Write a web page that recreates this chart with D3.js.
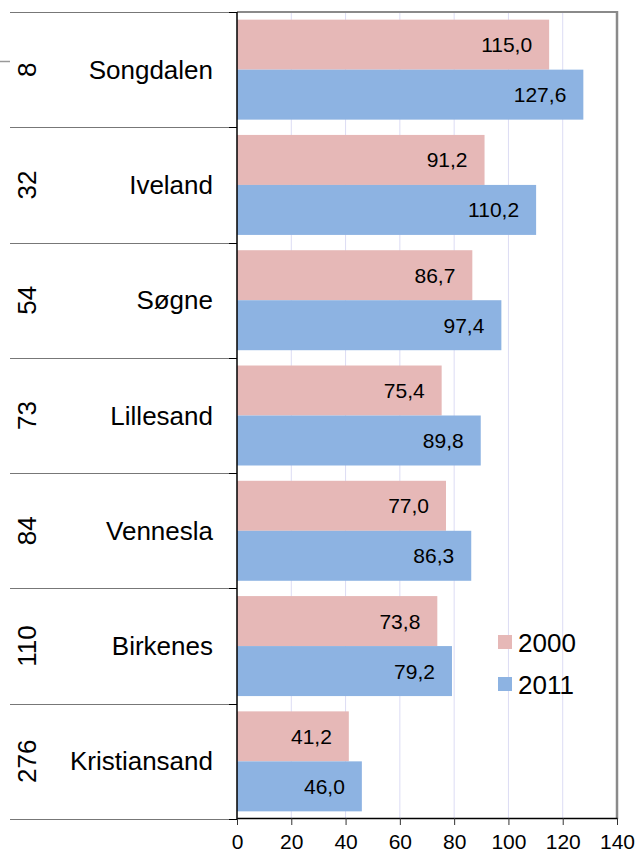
<!DOCTYPE html>
<html><head><meta charset="utf-8">
<script src="https://cdn.jsdelivr.net/npm/d3@7"></script>
<style>body{margin:0;background:#fff}svg{display:block;font-family:"Liberation Sans",Arial,sans-serif}</style>
</head><body>
<svg id="c" width="635" height="854"></svg>
<script>
const ranks = ["8","32","54","73","84","110","276"];
const categories = ["Songdalen","Iveland","Søgne","Lillesand","Vennesla","Birkenes","Kristiansand"];
const series = ["2000","2011"];
const values2000 = [115.0, 91.2, 86.7, 75.4, 77.0, 73.8, 41.2];
const values2011 = [127.6, 110.2, 97.4, 89.8, 86.3, 79.2, 46.0];
const xTicks = [0,20,40,60,80,100,120,140];
const colors = {"2000":"#e6b8b7","2011":"#8db3e2"};

const svg = d3.select("#c");
const L = 237, R = 617, T = 12, B = 819;
const x = d3.scaleLinear().domain([0,140]).range([L,R]);
const y = d3.scaleBand().domain(categories).range([T,B]).paddingInner(0).paddingOuter(0);
const yi = d3.scaleBand().domain(series).range([0,y.bandwidth()]).paddingOuter(0.153).paddingInner(0);
const fmt = v => d3.format(".1f")(v).replace(".", ",");

// gridlines
svg.append("g").selectAll("line").data(xTicks.filter(t=>t>0 && t<140)).join("line")
  .attr("x1",d=>x(d)).attr("x2",d=>x(d)).attr("y1",T).attr("y2",B-1)
  .attr("stroke","#dcdcf4").attr("stroke-width",1);

// bars
const data = [];
categories.forEach((c,i)=>{ data.push({c, s:"2000", v:values2000[i]}); data.push({c, s:"2011", v:values2011[i]}); });
svg.append("g").selectAll("rect").data(data).join("rect")
  .attr("x",x(0)).attr("y",d=>y(d.c)+yi(d.s)).attr("width",d=>x(d.v)-x(0)).attr("height",yi.bandwidth())
  .attr("fill",d=>colors[d.s]);
svg.append("g").selectAll("text").data(data).join("text")
  .attr("x",d=>x(d.v)-17).attr("y",d=>y(d.c)+yi(d.s)+yi.bandwidth()/2)
  .attr("text-anchor","end").attr("dominant-baseline","central")
  .attr("font-size",21).attr("fill","#000").text(d=>fmt(d.v));

// plot frame: top & right gray
svg.append("line").attr("x1",L).attr("x2",R).attr("y1",T).attr("y2",T).attr("stroke","#8a8a8a").attr("stroke-width",2);
svg.append("line").attr("x1",R).attr("x2",R).attr("y1",T-1).attr("y2",B).attr("stroke","#8a8a8a").attr("stroke-width",2.5);

// x axis
const xa = svg.append("g").attr("transform",`translate(0,${B-1})`)
  .call(d3.axisBottom(x).tickValues(xTicks).tickSize(7).tickSizeOuter(0).tickFormat(d=>d));
xa.select(".domain").attr("stroke","#000").attr("stroke-width",1.5);
xa.selectAll(".tick line").attr("stroke","#333");
xa.selectAll(".tick text").attr("font-size",21).attr("font-family","Liberation Sans, Arial, sans-serif").attr("fill","#000").attr("dy","1.0em");

// left axis line
svg.append("line").attr("x1",L).attr("x2",L).attr("y1",T).attr("y2",B).attr("stroke","#000").attr("stroke-width",1.5);

// category separators
const bounds = categories.map(c=>y(c)).concat([y(categories[categories.length-1])+y.bandwidth()]);
svg.append("g").selectAll("line").data(bounds).join("line")
  .attr("x1",10).attr("x2",229).attr("y1",d=>Math.round(d)+0.5).attr("y2",d=>Math.round(d)+0.5)
  .attr("stroke","#777").attr("stroke-width",1);
svg.append("g").selectAll("line").data(bounds).join("line")
  .attr("x1",229).attr("x2",L).attr("y1",d=>Math.round(d)+0.5).attr("y2",d=>Math.round(d)+0.5)
  .attr("stroke","#000").attr("stroke-width",1);
svg.append("line").attr("x1",0).attr("x2",10).attr("y1",61.5).attr("y2",61.5).attr("stroke","#999").attr("stroke-width",1.5);

// category labels
svg.append("g").selectAll("text").data(categories).join("text")
  .attr("x",213).attr("y",d=>y(d)+y.bandwidth()/2).attr("text-anchor","end").attr("dominant-baseline","central")
  .attr("font-size",26).attr("fill","#000").text(d=>d);
// ranks rotated
svg.append("g").selectAll("text").data(categories).join("text")
  .attr("transform",(d)=>`translate(27,${y(d)+y.bandwidth()/2}) rotate(-90)`)
  .attr("text-anchor","middle").attr("dominant-baseline","central")
  .attr("font-size",26).attr("fill","#000").text((d,i)=>ranks[i]);

// legend
const lg = svg.append("g").selectAll("g").data(series).join("g").attr("transform",(d,i)=>`translate(498,${635+i*42})`);
lg.append("rect").attr("width",14).attr("height",14).attr("fill",d=>colors[d]);
lg.append("text").attr("x",20).attr("y",7.5).attr("dominant-baseline","central").attr("font-size",26).attr("fill","#000").text(d=>d);
</script>
</body></html>
